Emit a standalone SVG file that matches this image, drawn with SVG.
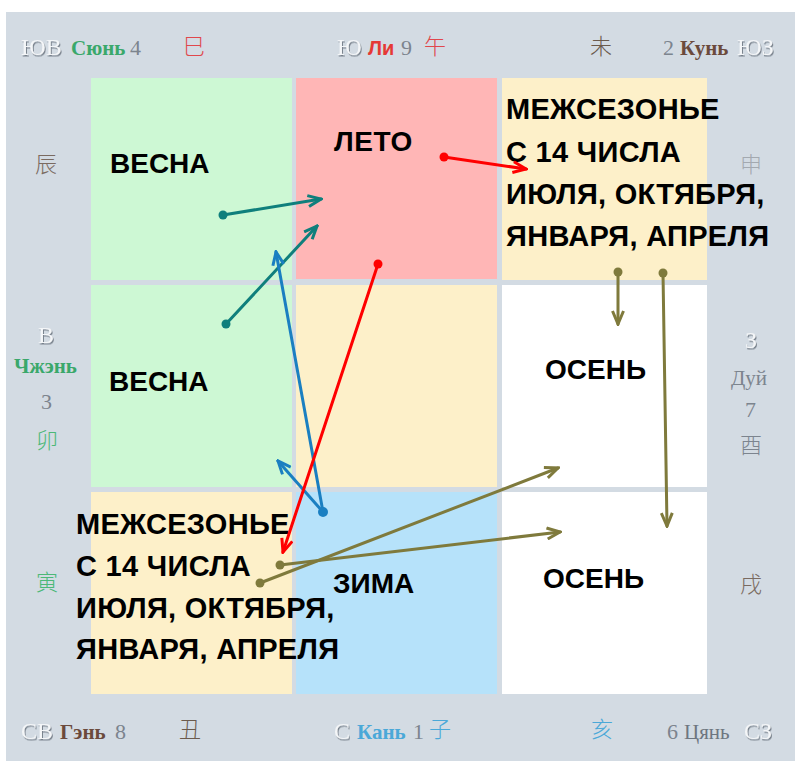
<svg xmlns="http://www.w3.org/2000/svg" width="802" height="767" viewBox="0 0 802 767">
<defs>
<style>
.lbl{font-family:"Liberation Sans",Arial,sans-serif;font-weight:bold;font-size:28px;fill:#000}
.blk{font-size:29px;letter-spacing:0.3px}
.dir{font-family:"Liberation Serif","DejaVu Serif",serif;font-size:24px;fill:#f4f6f8;filter:url(#emb)}
.nm{font-family:"Liberation Serif","DejaVu Serif",serif;font-weight:bold;font-size:21px}
.num{font-family:"Liberation Serif","DejaVu Serif",serif;font-size:22px;fill:#7c848e}
.cjk{font-family:"Noto Sans CJK SC","Noto Sans CJK JP",sans-serif;font-size:22px;font-weight:300}
.ln{fill:none;stroke-width:3;stroke-linecap:round}
</style>
<filter id="emb" x="-20%" y="-20%" width="140%" height="140%">
<feDropShadow dx="1" dy="1.5" stdDeviation="0.6" flood-color="#6f7984" flood-opacity="0.9"/>
</filter>
<marker id="ahTeal" viewBox="0 0 16 14" refX="14" refY="7" markerWidth="16" markerHeight="14" orient="auto" markerUnits="userSpaceOnUse"><path d="M1,1.5 L14,7 L1,12.5" fill="none" stroke="#0f7f7c" stroke-width="3"/></marker>
<marker id="ahRed" viewBox="0 0 16 14" refX="14" refY="7" markerWidth="16" markerHeight="14" orient="auto" markerUnits="userSpaceOnUse"><path d="M1,1.5 L14,7 L1,12.5" fill="none" stroke="#ff0000" stroke-width="3"/></marker>
<marker id="ahBlue" viewBox="0 0 16 14" refX="14" refY="7" markerWidth="16" markerHeight="14" orient="auto" markerUnits="userSpaceOnUse"><path d="M1,1.5 L14,7 L1,12.5" fill="none" stroke="#1a7fc1" stroke-width="3"/></marker>
<marker id="ahOlive" viewBox="0 0 16 14" refX="14" refY="7" markerWidth="16" markerHeight="14" orient="auto" markerUnits="userSpaceOnUse"><path d="M1,1.5 L14,7 L1,12.5" fill="none" stroke="#7f7a3c" stroke-width="3"/></marker>
</defs>
<rect width="802" height="767" fill="#ffffff"/>
<rect x="6" y="12" width="789" height="749" fill="#d3dbe3"/>

<g id="cells">
<g id="spring1"><rect x="91" y="78" width="201" height="202" fill="#cdf8d4"/><text class="lbl" x="110" y="173">ВЕСНА</text></g>
<g id="summer"><rect x="296" y="78" width="201" height="201" fill="#ffb6b6"/><text class="lbl" x="334" y="151" letter-spacing="0.6">ЛЕТО</text></g>
<g id="transition1"><rect x="502" y="78" width="205" height="202" fill="#fdf0c9"/>
<text class="lbl blk" x="506" y="119">МЕЖСЕЗОНЬЕ</text>
<text class="lbl blk" x="506" y="162">С 14 ЧИСЛА</text>
<text class="lbl blk" x="506" y="204">ИЮЛЯ, ОКТЯБРЯ,</text>
<text class="lbl blk" x="506" y="246">ЯНВАРЯ, АПРЕЛЯ</text></g>
<g id="spring2"><rect x="91" y="285" width="201" height="202" fill="#cdf8d4"/><text class="lbl" x="109" y="391">ВЕСНА</text></g>
<g id="center"><rect x="296" y="285" width="201" height="202" fill="#fdf0c9"/></g>
<g id="autumn1"><rect x="502" y="285" width="205" height="202" fill="#ffffff"/><text class="lbl" x="545" y="379">ОСЕНЬ</text></g>
<g id="transition2"><rect x="91" y="492" width="201" height="202" fill="#fdf0c9"/></g>
<g id="winter"><rect x="296" y="492" width="201" height="202" fill="#b6e2fa"/><text class="lbl" x="333" y="593">ЗИМА</text></g>
<g id="autumn2"><rect x="502" y="492" width="205" height="202" fill="#ffffff"/><text class="lbl" x="543" y="588">ОСЕНЬ</text></g>
<g id="transition2text">
<text class="lbl blk" x="76" y="534">МЕЖСЕЗОНЬЕ</text>
<text class="lbl blk" x="76" y="576">С 14 ЧИСЛА</text>
<text class="lbl blk" x="76" y="618">ИЮЛЯ, ОКТЯБРЯ,</text>
<text class="lbl blk" x="76" y="659">ЯНВАРЯ, АПРЕЛЯ</text></g>
</g>

<g id="border">
<text class="dir" x="21" y="55">ЮВ</text>
<text class="nm" x="71" y="55" fill="#3aa86b">Сюнь</text>
<text class="num" x="130" y="55">4</text>
<text class="cjk" x="183" y="54" fill="#e0474c">巳</text>
<text class="dir" x="337" y="55">Ю</text>
<text x="368" y="55" font-family="Liberation Sans,Arial,sans-serif" font-weight="bold" font-size="20" fill="#e53935">Ли</text>
<text class="num" x="401" y="55">9</text>
<text class="cjk" x="424" y="54" fill="#e0474c">午</text>
<text class="cjk" x="590" y="54" fill="#6b5a4c">未</text>
<text class="num" x="663" y="55">2</text>
<text class="nm" x="680" y="55" fill="#6b4a3c">Кунь</text>
<text class="dir" x="737" y="55">ЮЗ</text>

<text class="cjk" x="35" y="172" fill="#7a6a60">辰</text>
<text class="dir" x="38" y="343">В</text>
<text class="nm" x="14" y="373" fill="#3aa86b" font-size="19">Чжэнь</text>
<text class="num" x="41" y="409">3</text>
<text class="cjk" x="36" y="448" fill="#4cb878">卯</text>
<text class="cjk" x="36" y="590" fill="#4cb878">寅</text>

<text class="cjk" x="740" y="172" fill="#a3a9b0">申</text>
<text class="dir" x="745" y="348">З</text>
<text x="731" y="385" font-family="Liberation Serif,serif" font-size="21" fill="#7c848e">Дуй</text>
<text class="num" x="745" y="417">7</text>
<text class="cjk" x="740" y="453" fill="#7c848e">酉</text>
<text class="cjk" x="740" y="592" fill="#7a6a60">戌</text>

<text class="dir" x="21" y="739">СВ</text>
<text class="nm" x="60" y="739" fill="#6b4a3c">Гэнь</text>
<text class="num" x="115" y="739">8</text>
<text class="cjk" x="179" y="737" fill="#6b5a4c">丑</text>
<text class="dir" x="334" y="739">С</text>
<text class="nm" x="357" y="739" fill="#4aa8d8">Кань</text>
<text class="num" x="413" y="739">1</text>
<text class="cjk" x="429" y="737" fill="#4aa8d8">子</text>
<text class="cjk" x="591" y="737" fill="#4aa8d8">亥</text>
<text class="num" x="667" y="739">6</text>
<text x="684" y="739" font-family="Liberation Serif,serif" font-size="21" fill="#6e7680">Цянь</text>
<text class="dir" x="744" y="739">СЗ</text>
</g>

<g id="connectors">
<line class="ln" x1="223" y1="215" x2="321" y2="199" stroke="#0f7f7c" marker-end="url(#ahTeal)"/>
<circle cx="223" cy="215" r="4.5" fill="#0f7f7c"/>
<line class="ln" x1="226" y1="324" x2="317" y2="226" stroke="#0f7f7c" marker-end="url(#ahTeal)"/>
<circle cx="226" cy="324" r="4.5" fill="#0f7f7c"/>
<line class="ln" x1="323" y1="512" x2="276" y2="252" stroke="#1a7fc1" marker-end="url(#ahBlue)"/>
<line class="ln" x1="323" y1="512" x2="278" y2="461" stroke="#1a7fc1" marker-end="url(#ahBlue)"/>
<circle cx="323" cy="512" r="5" fill="#1a7fc1"/>
<line class="ln" x1="378" y1="264" x2="283" y2="552" stroke="#ff0000" marker-end="url(#ahRed)"/>
<circle cx="378" cy="264" r="4.5" fill="#ff0000"/>
<line class="ln" x1="444" y1="157" x2="526" y2="169" stroke="#ff0000" marker-end="url(#ahRed)"/>
<circle cx="444" cy="157" r="4.5" fill="#ff0000"/>
<line class="ln" x1="260" y1="583" x2="558" y2="468" stroke="#7f7a3c" marker-end="url(#ahOlive)"/>
<circle cx="260" cy="583" r="4.5" fill="#7f7a3c"/>
<line class="ln" x1="280" y1="565" x2="560" y2="532" stroke="#7f7a3c" marker-end="url(#ahOlive)"/>
<circle cx="280" cy="565" r="4.5" fill="#7f7a3c"/>
<line class="ln" x1="618" y1="272" x2="618" y2="324" stroke="#7f7a3c" marker-end="url(#ahOlive)"/>
<circle cx="618" cy="272" r="4.5" fill="#7f7a3c"/>
<line class="ln" x1="663" y1="273" x2="667" y2="526" stroke="#7f7a3c" marker-end="url(#ahOlive)"/>
<circle cx="663" cy="273" r="4.5" fill="#7f7a3c"/>
</g>
</svg>
